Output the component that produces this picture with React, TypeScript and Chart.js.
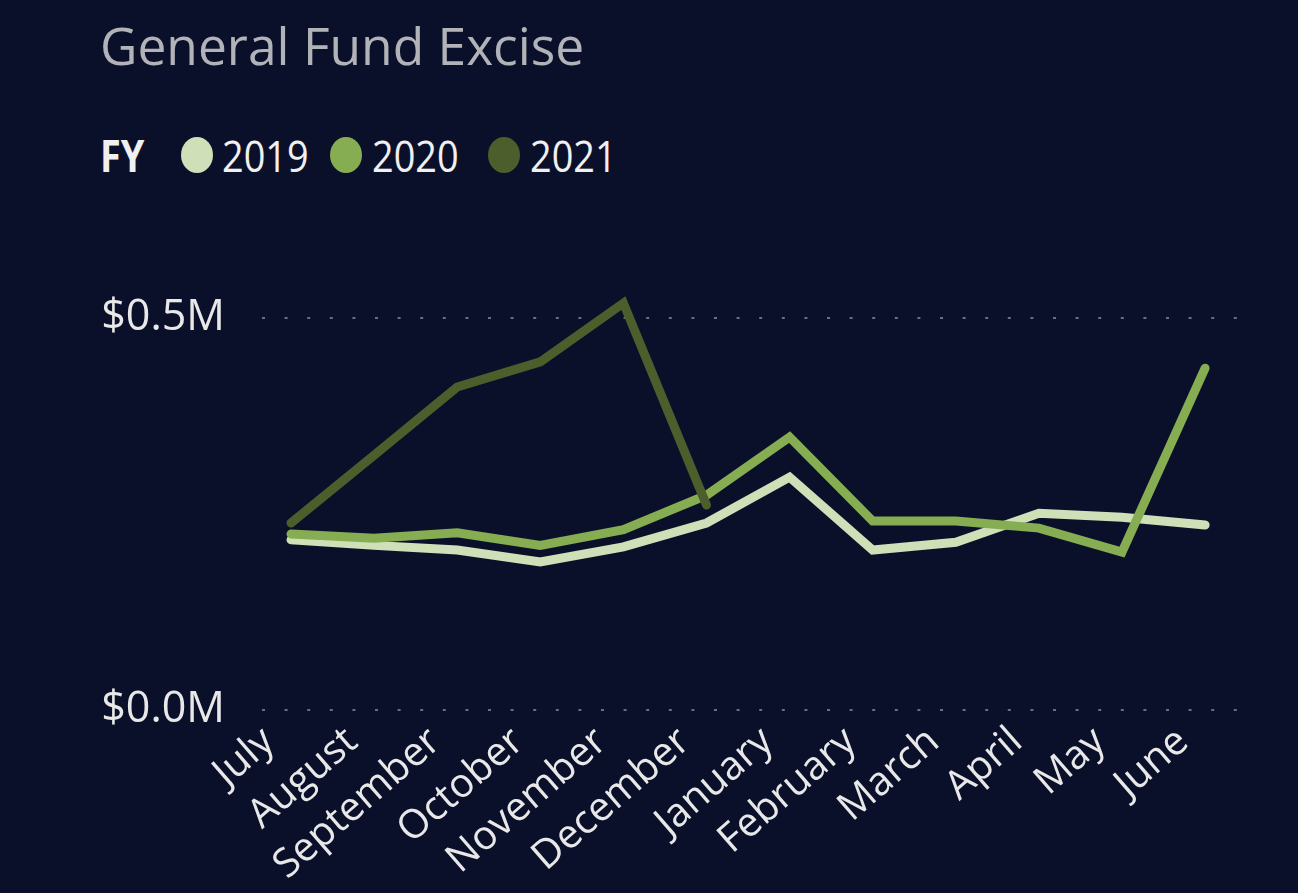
import React, { useEffect, useRef } from "react";
import { Chart, registerables } from "chart.js";

Chart.register(...registerables);

const months = ["July", "August", "September", "October", "November", "December", "January", "February", "March", "April", "May", "June"];
const fy2019 = [0.217, 0.210, 0.204, 0.189, 0.208, 0.2385, 0.297, 0.204, 0.214, 0.251, 0.246, 0.236];
const fy2020 = [0.2245, 0.219, 0.226, 0.210, 0.230, 0.274, 0.348, 0.241, 0.241, 0.232, 0.2015, 0.436];
const fy2021 = [0.2385, 0.325, 0.412, 0.444, 0.519, 0.2615, null, null, null, null, null, null];
const yTicks = [0, 0.5];
const seriesNames = ["2019", "2020", "2021"];
const seriesColors = ["#cfdfb8", "#86ad52", "#4b5e2b"];

const BG = "#0b102a";

export default function App() {
  const canvasRef = useRef<HTMLCanvasElement | null>(null);

  useEffect(() => {
    document.body.style.margin = "0";
    document.body.style.background = BG;
    const ctx = canvasRef.current!.getContext("2d")!;
    const series = [fy2019, fy2020, fy2021];
    const chart = new Chart(ctx, {
      type: "line",
      data: {
        datasets: series.map((vals, i) => ({
          label: seriesNames[i],
          data: vals.map((v, k) => ({ x: k, y: v })),
          borderColor: seriesColors[i],
          backgroundColor: seriesColors[i],
          borderWidth: 9,
          pointRadius: 0,
          tension: 0,
          spanGaps: false,
          borderJoinStyle: "miter",
          borderCapStyle: "round",
          order: 2 - i,
        })) as any,
      },
      options: {
        animation: false,
        responsive: false,
        maintainAspectRatio: false,
        layout: { padding: { top: 280, left: 0, right: 58, bottom: 0 } },
        plugins: { legend: { display: false }, tooltip: { enabled: false }, title: { display: false } },
        scales: {
          x: {
            type: "linear",
            min: -0.349,
            max: 11.42,
            grid: { display: false, drawTicks: false },
            border: { display: false },
            afterFit: (s: any) => { s.height = 893 - 710; },
            afterBuildTicks: (s: any) => { s.ticks = months.map((_, i) => ({ value: i })); },
            ticks: {
              autoSkip: false,
              minRotation: 41,
              maxRotation: 41,
              padding: 8,
              labelOffset: -22,
              color: "#e8e8e8",
              font: { family: "'Open Sans', sans-serif", size: 40 },
              callback: (v: any) => months[Math.round(Number(v))] ?? "",
            },
          },
          y: {
            min: 0,
            max: 0.5485,
            grid: { color: "#6a6e80", lineWidth: 2, drawTicks: false },
            border: { display: false, dash: [3, 19.6] },
            afterFit: (s: any) => { s.width = 262; },
            afterBuildTicks: (s: any) => { s.ticks = yTicks.map((v) => ({ value: v })); },
            ticks: {
              padding: 37,
              color: "#e8e8e8",
              font: { family: "'Open Sans', sans-serif", size: 43 },
              callback: (v: any) => "$" + Number(v).toFixed(1) + "M",
            },
          },
        },
      },
    });
    return () => chart.destroy();
  }, []);

  const legendText: React.CSSProperties = {
    position: "absolute",
    top: 133,
    fontFamily: "'Open Sans', sans-serif",
    fontSize: 44,
    lineHeight: "44px",
    color: "#f0f0f0",
    transform: "scaleX(0.86)",
    transformOrigin: "left center",
    whiteSpace: "nowrap",
  };
  const dot = (cx: number, color: string): React.CSSProperties => ({
    position: "absolute",
    left: cx - 16,
    top: 137,
    width: 32,
    height: 36,
    borderRadius: "50%",
    background: color,
  });
  const textX = [222, 372, 530];
  const dotX = [197, 346, 504];

  return (
    <div style={{ position: "relative", width: 1298, height: 893, background: BG, overflow: "hidden" }}>
      <div
        style={{
          position: "absolute",
          left: 100,
          top: 20,
          fontFamily: "'Open Sans', sans-serif",
          fontSize: 51.5,
          lineHeight: "51.5px",
          color: "#b2b3b8",
          whiteSpace: "nowrap",
        }}
      >
        General Fund Excise
      </div>
      <div style={{ ...legendText, left: 100, fontWeight: 700 }}>FY</div>
      {seriesNames.map((n, i) => (
        <React.Fragment key={n}>
          <div style={dot(dotX[i], seriesColors[i])} />
          <div style={{ ...legendText, left: textX[i] }}>{n}</div>
        </React.Fragment>
      ))}
      <canvas ref={canvasRef} width={1298} height={893} style={{ position: "absolute", left: 0, top: 0 }} />
    </div>
  );
}
